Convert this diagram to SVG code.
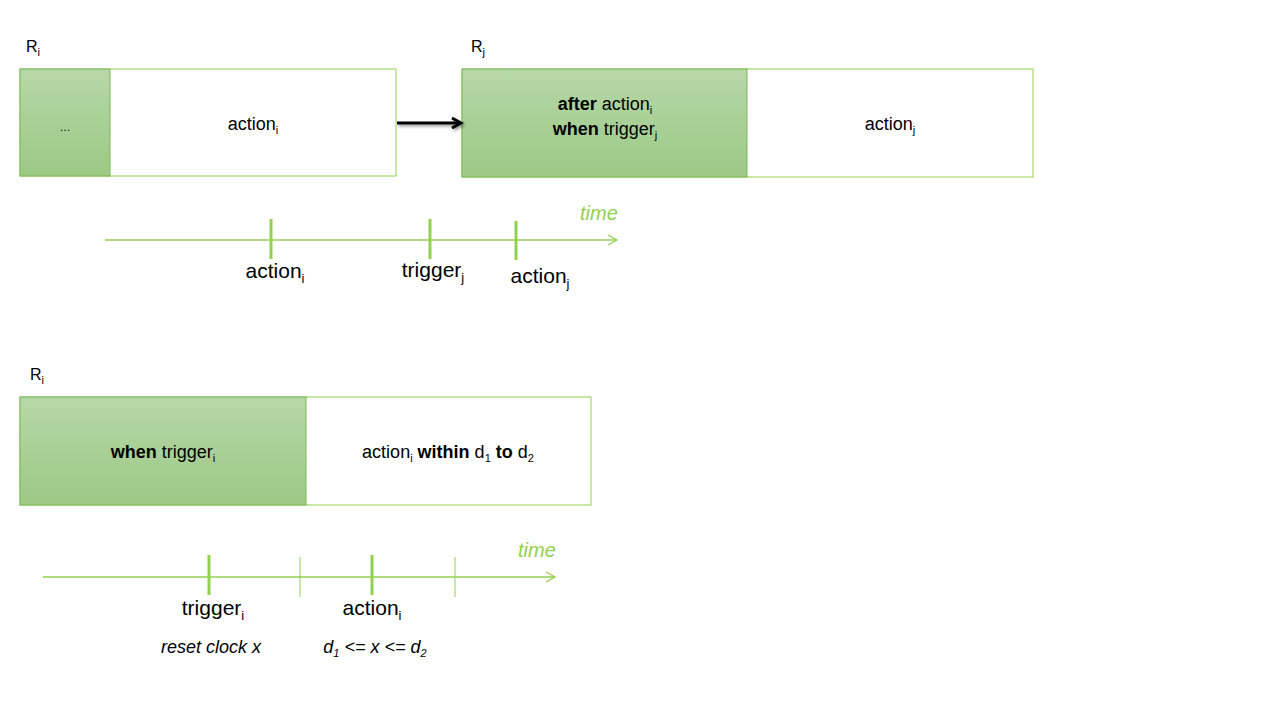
<svg xmlns="http://www.w3.org/2000/svg" width="1280" height="720" viewBox="0 0 1280 720">
<style>
text{font-family:"Liberation Sans",Arial,sans-serif;fill:#000}
.b{font-size:18px}
.t{font-size:21px}
.lbl{font-size:16px}
.box{fill:#fff;stroke:#92d050;stroke-width:1}
.grn{fill:url(#g);stroke:#7cb856;stroke-width:1}
.tl{stroke:#92d050;stroke-width:1.3;fill:none}
.tk{stroke:#92d050;stroke-width:3}
.tn{stroke:#92d050;stroke-width:1}
.time{font-size:20px;font-style:italic;fill:#92d050}
.it{font-style:italic}
</style>
<defs>
<linearGradient id="g" x1="0" y1="0" x2="0" y2="1">
<stop offset="0" stop-color="#b7d7a8"/>
<stop offset="1" stop-color="#9bc985"/>
</linearGradient>
<marker id="ar" markerWidth="12" markerHeight="12" refX="10" refY="6" orient="auto" markerUnits="userSpaceOnUse">
<path d="M1,1 L10,6 L1,11" fill="none" stroke="#92d050" stroke-width="1.3"/>
</marker>
<marker id="ab" markerWidth="14" markerHeight="14" refX="11" refY="7" orient="auto" markerUnits="userSpaceOnUse">
<path d="M2,2 L11,7 L2,12" fill="none" stroke="#000" stroke-width="3"/>
</marker>
<filter id="sh" filterUnits="userSpaceOnUse" x="380" y="100" width="100" height="50">
<feDropShadow dx="1.5" dy="2" stdDeviation="1.5" flood-color="#000" flood-opacity="0.4"/>
</filter>
</defs>

<g id="Ri-top">
<text x="26" y="52" class="lbl">R<tspan font-size="11" dy="4">i</tspan></text>
<rect x="20" y="69" width="376" height="107" class="box"/>
<rect x="20" y="69" width="90" height="107" class="grn"/>
<text x="65" y="131" font-size="11" text-anchor="middle">…</text>
<text x="253" y="130" class="b" text-anchor="middle">action<tspan font-size="11" dy="4">i</tspan></text>
</g>

<g id="Rj">
<text x="471" y="52" class="lbl">R<tspan font-size="11" dy="4">j</tspan></text>
<rect x="462" y="69" width="571" height="108" class="box"/>
<rect x="462" y="69" width="285" height="108" class="grn"/>
<text x="605" y="110" class="b" text-anchor="middle"><tspan font-weight="bold">after</tspan> action<tspan font-size="11" dy="4">i</tspan></text>
<text x="605" y="135" class="b" text-anchor="middle"><tspan font-weight="bold">when</tspan> trigger<tspan font-size="11" dy="4">j</tspan></text>
<text x="890" y="130" class="b" text-anchor="middle">action<tspan font-size="11" dy="4">j</tspan></text>
</g>

<g id="connectors">
<path d="M397,123 L461,123" stroke="#000" stroke-width="3" fill="none" marker-end="url(#ab)" filter="url(#sh)"/>
</g>

<g id="timeline1">
<line x1="105" y1="240" x2="617" y2="240" class="tl" marker-end="url(#ar)"/>
<text x="580" y="220" class="time">time</text>
<line x1="271" y1="219" x2="271" y2="259" class="tk"/>
<line x1="430" y1="219" x2="430" y2="259" class="tk"/>
<line x1="516" y1="221" x2="516" y2="260" class="tk"/>
<text x="275" y="278" class="t" text-anchor="middle">action<tspan font-size="13" dy="5">i</tspan></text>
<text x="433" y="277" class="t" text-anchor="middle">trigger<tspan font-size="13" dy="5">j</tspan></text>
<text x="540" y="283" class="t" text-anchor="middle">action<tspan font-size="13" dy="5">j</tspan></text>
</g>

<g id="Ri-bottom">
<text x="30" y="380" class="lbl">R<tspan font-size="11" dy="4">i</tspan></text>
<rect x="20" y="397" width="571" height="108" class="box"/>
<rect x="20" y="397" width="286" height="108" class="grn"/>
<text x="163" y="458" class="b" text-anchor="middle"><tspan font-weight="bold">when</tspan> trigger<tspan font-size="11" dy="4">i</tspan></text>
<text x="448" y="458" class="b" text-anchor="middle">action<tspan font-size="11" dy="4">i</tspan><tspan dy="-4" font-weight="bold"> within</tspan> d<tspan font-size="11" dy="4">1</tspan><tspan dy="-4" font-weight="bold"> to</tspan> d<tspan font-size="11" dy="4">2</tspan></text>
</g>

<g id="timeline2">
<line x1="43" y1="577" x2="555" y2="577" class="tl" marker-end="url(#ar)"/>
<text x="518" y="557" class="time">time</text>
<line x1="209" y1="555" x2="209" y2="595" class="tk"/>
<line x1="372" y1="555" x2="372" y2="595" class="tk"/>
<line x1="300" y1="557" x2="300" y2="597" class="tn"/>
<line x1="455" y1="557" x2="455" y2="597" class="tn"/>
<text x="213" y="615" class="t" text-anchor="middle">trigger<tspan font-size="13" dy="5">i</tspan></text>
<text x="372" y="615" class="t" text-anchor="middle">action<tspan font-size="13" dy="5">i</tspan></text>
<text x="211" y="653" font-size="18" class="it" text-anchor="middle">reset clock x</text>
<text x="375" y="653" font-size="18" class="it" text-anchor="middle">d<tspan font-size="11" dy="4">1</tspan><tspan dy="-4"> &lt;= x &lt;= d</tspan><tspan font-size="11" dy="4">2</tspan></text>
</g>
</svg>
